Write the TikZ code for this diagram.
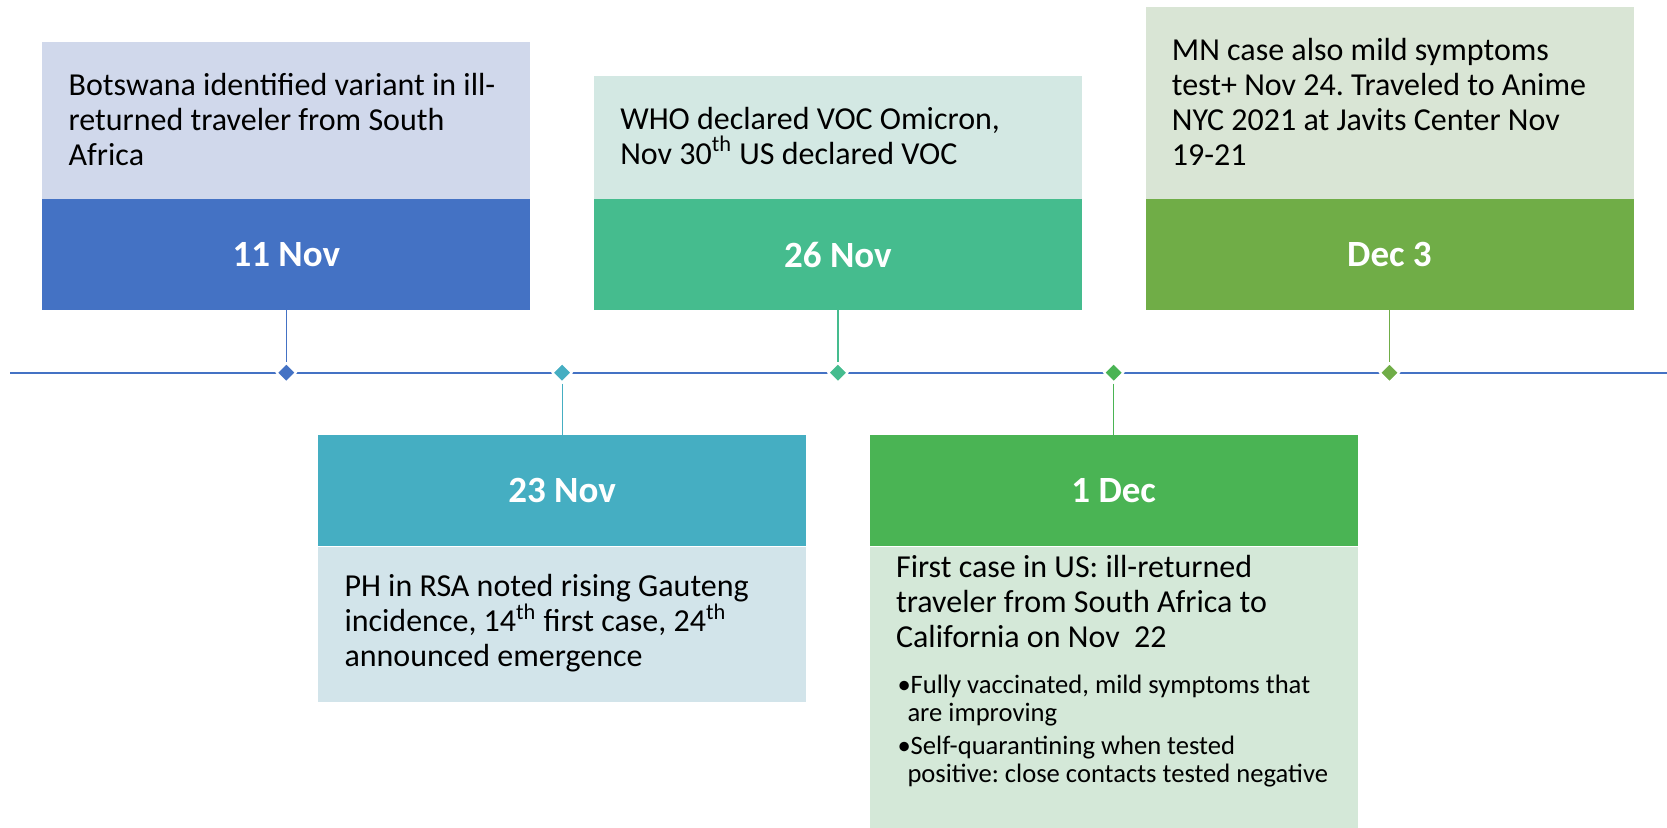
\documentclass[tikz,border=0pt]{standalone}
\usepackage{fontspec}
\setmainfont{Carlito}
\usepackage{tikz}
\usetikzlibrary{shapes.geometric, positioning}
\usepackage{xcolor}

\definecolor{blueBar}{HTML}{4472C4}
\definecolor{blueNote}{HTML}{D0D8EB}
\definecolor{tealBar}{HTML}{45AEC2}
\definecolor{tealNote}{HTML}{D2E4EA}
\definecolor{seaBar}{HTML}{45BC8E}
\definecolor{seaNote}{HTML}{D3E8E3}
\definecolor{greenBar}{HTML}{4AB454}
\definecolor{greenNote}{HTML}{D4E8D8}
\definecolor{oliveBar}{HTML}{70AD47}
\definecolor{oliveNote}{HTML}{D9E5D5}

% superscript that leaves the line spacing alone
\newcommand{\ordsup}[1]{\textsuperscript{\smash{#1}}}

\begin{document}
\begin{tikzpicture}[x=0.5pt, y=-0.5pt]
        % Define block styles
        \tikzstyle{datebar} = [rectangle, inner sep=0pt, minimum width=244pt, minimum height=55.35pt, text=white, font=\fontsize{18.5}{22}\selectfont\bfseries]
        \tikzstyle{notebox} = [rectangle, inner sep=0pt, minimum width=244pt]
        \tikzstyle{notetext} = [anchor=north west, inner sep=0pt, align=left, font=\fontsize{16}{17.5}\selectfont\frenchspacing]
        \tikzstyle{marker} = [diamond, draw=white, line width=1pt, inner sep=0pt, minimum size=10pt]
        \tikzstyle{stem} = [draw, line width=0.6pt]

        \useasboundingbox (0,0) rectangle (1667,828);

        % Time axis
        \coordinate (axisL) at (10,372.7);
        \coordinate (axisR) at (1667,372.7);
        \draw [blueBar, line width=1pt] (axisL) -- (axisR);

        % Date bars
        \node [datebar, fill=blueBar] (bar1) at (286.3,254.75) {11 Nov};
        \node [datebar, fill=tealBar] (bar2) at (562.1,490.65) {23 Nov};
        \node [datebar, fill=seaBar] (bar3) at (837.9,254.75) {26 Nov};
        \node [datebar, fill=greenBar] (bar4) at (1113.7,490.65) {1 Dec};
        \node [datebar, fill=oliveBar] (bar5) at (1389.5,254.75) {Dec 3};

        % Note boxes on the bars
        \node [notebox, fill=blueNote, minimum height=78.4pt, above=0pt of bar1] (box1) {};
        \node [notebox, fill=tealNote, minimum height=77.5pt, below=0pt of bar2] (box2) {};
        \node [notebox, fill=seaNote, minimum height=61.1pt, above=0pt of bar3] (box3) {};
        \node [notebox, fill=greenNote, minimum height=141pt, below=0pt of bar4] (box4) {};
        \node [notebox, fill=oliveNote, minimum height=95.6pt, above=0pt of bar5] (box5) {};

        % Note texts
        \node [notetext] (note1) at ([shift={(13.2pt,-14.75pt)}]box1.north west)
            {\strut Botswana identified variant in ill-\\returned traveler from South\\Africa};
        \node [notetext] (note2) at ([shift={(13.2pt,-12.75pt)}]box2.north west)
            {\strut PH in RSA noted rising Gauteng\\incidence, 14\ordsup{th} first case, 24\ordsup{th}\\announced emergence};
        \node [notetext] (note3) at ([shift={(13.2pt,-14.1pt)}]box3.north west)
            {\strut WHO declared VOC Omicron,\\Nov 30\ordsup{th} US declared VOC};
        \node [notetext] (note4) at ([shift={(13.2pt,-3.1pt)}]box4.north west)
            {\strut First case in US: ill-returned\\traveler from South Africa to\\California on Nov~~22};
        \node [notetext] (note5) at ([shift={(13.2pt,-14.1pt)}]box5.north west)
            {\strut MN case also mild symptoms\\test+ Nov 24. Traveled to Anime\\NYC 2021 at Javits Center Nov\\19-21};
        \node [anchor=north west, inner sep=0pt, text width=228pt, align=flush left, font=\fontsize{13.3}{14}\selectfont\frenchspacing]
            (bullets4) at ([shift={(13.9pt,-63.55pt)}]box4.north west)
            {\setlength{\parskip}{2.3pt}%
             \noindent\strut\hangindent=5pt\hangafter=1\makebox[6.6pt][l]{\textbullet}Fully vaccinated, mild symptoms that\newline are improving\par
             \noindent\hangindent=5pt\hangafter=1\makebox[6.6pt][l]{\textbullet}Self-quarantining when tested\newline positive: close contacts tested negative\par};

        % Markers on the axis
        \node [marker, fill=blueBar] (d1) at (bar1 |- axisL) {};
        \node [marker, fill=tealBar] (d2) at (bar2 |- axisL) {};
        \node [marker, fill=seaBar] (d3) at (bar3 |- axisL) {};
        \node [marker, fill=greenBar] (d4) at (bar4 |- axisL) {};
        \node [marker, fill=oliveBar] (d5) at (bar5 |- axisL) {};

        % Connect markers with bars
        \path [stem, blueBar] (d1) -- (bar1);
        \path [stem, tealBar] (d2) -- (bar2);
        \path [stem, seaBar] (d3) -- (bar3);
        \path [stem, greenBar] (d4) -- (bar4);
        \path [stem, oliveBar] (d5) -- (bar5);

    \end{tikzpicture}
\end{document}
